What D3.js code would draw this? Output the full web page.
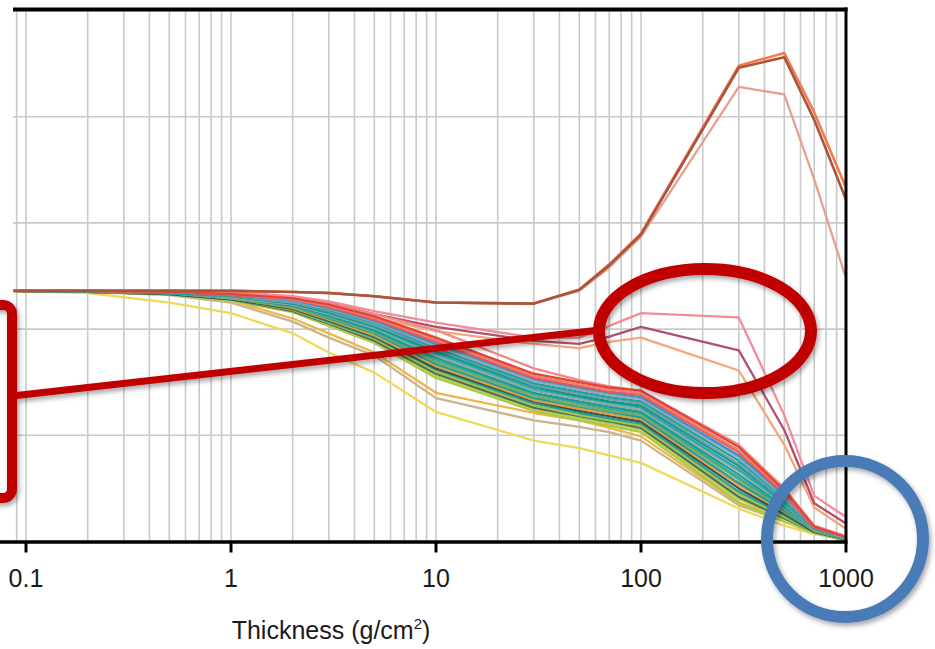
<!DOCTYPE html>
<html>
<head>
<meta charset="utf-8">
<script src="https://cdn.jsdelivr.net/npm/d3@7"></script>
<style>
  body { margin: 0; background: #fff; }
  text { font-family: "Liberation Sans", Arial, Helvetica, sans-serif; }
</style>
</head>
<body>
<svg id="chart"></svg>
<script>
// x sample points (thickness, g/cm2)
var thickness = [0.087, 0.2, 0.5, 1, 2, 3, 5, 10, 30, 50, 70, 100, 300, 500, 700, 1000];
var xTicks = [0.1, 1, 10, 100, 1000];
var xTickLabels = ["0.1", "1", "10", "100", "1000"];
var yGrid = [0, 1, 2, 3, 4, 5];

// the three curves with the big bump
var peakBrown  = [2.36, 2.36, 2.36, 2.36, 2.35, 2.34, 2.31, 2.25, 2.24, 2.37, 2.60, 2.89, 4.46, 4.56, 3.97, 3.22];
var peakOrange = [2.36, 2.36, 2.36, 2.36, 2.35, 2.34, 2.31, 2.25, 2.24, 2.37, 2.61, 2.90, 4.48, 4.60, 4.04, 3.33];
var peakSalmon = [2.36, 2.36, 2.36, 2.36, 2.35, 2.34, 2.31, 2.25, 2.24, 2.36, 2.58, 2.87, 4.28, 4.21, 3.41, 2.48];

// the lines inside the red ellipse
var ringPink   = [2.36, 2.36, 2.36, 2.35, 2.31, 2.26, 2.17, 2.06, 1.92, 1.92, 2.03, 2.15, 2.11, 1.19, 0.43, 0.23];
var ringMauve  = [2.36, 2.36, 2.36, 2.35, 2.30, 2.25, 2.14, 2.02, 1.89, 1.86, 1.93, 2.02, 1.80, 1.05, 0.36, 0.17];
var ringOrange = [2.36, 2.36, 2.36, 2.34, 2.29, 2.23, 2.11, 1.98, 1.86, 1.82, 1.88, 1.92, 1.61, 0.91, 0.32, 0.12];
var upperRose  = [2.36, 2.36, 2.36, 2.34, 2.29, 2.24, 2.14, 1.99, 1.63, 1.52, 1.46, 1.42, 0.91, 0.50, 0.15, 0.05];

// main bundle, top to bottom
var bandSeries = [
  [2.36, 2.36, 2.35, 2.33, 2.29, 2.23, 2.12, 1.92, 1.58, 1.50, 1.45, 1.42, 0.89, 0.48, 0.14, 0.04],
  [2.36, 2.36, 2.35, 2.33, 2.28, 2.22, 2.11, 1.90, 1.56, 1.48, 1.43, 1.40, 0.86, 0.47, 0.14, 0.04],
  [2.36, 2.36, 2.35, 2.32, 2.28, 2.21, 2.09, 1.88, 1.54, 1.46, 1.41, 1.38, 0.84, 0.45, 0.13, 0.04],
  [2.36, 2.36, 2.35, 2.32, 2.27, 2.20, 2.08, 1.86, 1.53, 1.45, 1.40, 1.36, 0.81, 0.44, 0.13, 0.04],
  [2.36, 2.36, 2.35, 2.32, 2.26, 2.19, 2.07, 1.84, 1.51, 1.43, 1.38, 1.34, 0.79, 0.42, 0.13, 0.03],
  [2.36, 2.36, 2.34, 2.31, 2.26, 2.18, 2.06, 1.82, 1.49, 1.41, 1.36, 1.32, 0.76, 0.41, 0.12, 0.03],
  [2.36, 2.36, 2.34, 2.31, 2.25, 2.17, 2.04, 1.81, 1.47, 1.39, 1.34, 1.30, 0.73, 0.39, 0.12, 0.03],
  [2.36, 2.36, 2.34, 2.31, 2.24, 2.16, 2.03, 1.79, 1.46, 1.37, 1.32, 1.28, 0.71, 0.38, 0.12, 0.03],
  [2.36, 2.36, 2.34, 2.31, 2.24, 2.15, 2.02, 1.77, 1.44, 1.36, 1.31, 1.26, 0.68, 0.36, 0.12, 0.03],
  [2.36, 2.36, 2.34, 2.30, 2.23, 2.14, 2.01, 1.75, 1.42, 1.34, 1.29, 1.24, 0.66, 0.35, 0.11, 0.03],
  [2.36, 2.35, 2.34, 2.30, 2.22, 2.13, 1.99, 1.73, 1.40, 1.32, 1.27, 1.22, 0.63, 0.33, 0.11, 0.02],
  [2.36, 2.35, 2.34, 2.30, 2.22, 2.12, 1.98, 1.71, 1.39, 1.30, 1.25, 1.21, 0.60, 0.32, 0.11, 0.02],
  [2.36, 2.35, 2.34, 2.29, 2.21, 2.11, 1.97, 1.69, 1.37, 1.28, 1.23, 1.19, 0.58, 0.31, 0.10, 0.02],
  [2.36, 2.35, 2.34, 2.29, 2.21, 2.10, 1.96, 1.67, 1.35, 1.27, 1.22, 1.17, 0.55, 0.29, 0.10, 0.02],
  [2.36, 2.35, 2.34, 2.29, 2.20, 2.09, 1.94, 1.65, 1.33, 1.25, 1.20, 1.15, 0.53, 0.28, 0.10, 0.02],
  [2.36, 2.35, 2.33, 2.28, 2.19, 2.08, 1.93, 1.63, 1.32, 1.23, 1.18, 1.13, 0.50, 0.26, 0.09, 0.02],
  [2.36, 2.35, 2.33, 2.28, 2.19, 2.07, 1.92, 1.62, 1.30, 1.21, 1.16, 1.11, 0.47, 0.25, 0.09, 0.02],
  [2.36, 2.35, 2.33, 2.28, 2.18, 2.06, 1.91, 1.60, 1.28, 1.19, 1.14, 1.09, 0.45, 0.23, 0.09, 0.01],
  [2.36, 2.35, 2.33, 2.28, 2.17, 2.05, 1.89, 1.58, 1.26, 1.18, 1.13, 1.07, 0.42, 0.22, 0.09, 0.01],
  [2.36, 2.35, 2.33, 2.27, 2.17, 2.04, 1.88, 1.56, 1.25, 1.16, 1.11, 1.05, 0.40, 0.20, 0.08, 0.01],
  [2.36, 2.35, 2.33, 2.27, 2.16, 2.03, 1.87, 1.54, 1.23, 1.14, 1.09, 1.03, 0.37, 0.19, 0.08, 0.01]
];

// lines that sit under the bundle
var lowOrange = [2.36, 2.35, 2.33, 2.27, 2.10, 1.96, 1.78, 1.40, 1.21, 1.14, 1.07, 0.99, 0.36, 0.20, 0.09, 0.02];
var lowTan    = [2.36, 2.35, 2.32, 2.25, 2.07, 1.92, 1.75, 1.35, 1.14, 1.08, 1.03, 0.95, 0.34, 0.19, 0.08, 0.02];
var lowYellow = [2.36, 2.34, 2.25, 2.15, 1.96, 1.78, 1.59, 1.22, 0.95, 0.88, 0.81, 0.74, 0.31, 0.15, 0.07, 0.02];

var bandColors = ["#e0443c", "#f0806c", "#e85a50", "#3b8fd4", "#8fa8b8", "#1ba39a", "#6fa0a8",
  "#16928c", "#22aca3", "#95a7a5", "#1a9c94", "#3aa896", "#7fa860", "#1f9f96", "#e0a040",
  "#3e524a", "#28a096", "#a0c24c", "#566a5c", "#b8d04c", "#a8c848"];

//--------------------------------------
var chart_width = 935;
var chart_height = 649;
var plot = { left: 13, right: 846, top: 10.5, bottom: 541.5 };

var svg = d3.select("#chart")
  .attr("width", chart_width)
  .attr("height", chart_height);

svg.append("rect").attr("width", chart_width).attr("height", chart_height).attr("fill", "#fff");

var defs = svg.append("defs");
var shadow = defs.append("filter")
  .attr("id", "shadow")
  .attr("filterUnits", "userSpaceOnUse")
  .attr("x", -50).attr("y", 0).attr("width", 1100).attr("height", 700);
shadow.append("feDropShadow")
  .attr("dx", 2).attr("dy", 3).attr("stdDeviation", 2.5)
  .attr("flood-color", "#000").attr("flood-opacity", 0.35);

var xScale = d3.scaleLog().domain([0.1, 1000]).range([26, 846]);
var yScale = d3.scaleLinear().domain([0, 5]).range([plot.bottom, plot.top]);

// grid
var minorVals = [];
[0.01, 0.1, 1, 10, 100].forEach(function(d) {
  for (var k = 1; k <= 9; k++) minorVals.push(d * k);
});
minorVals.push(1000);
minorVals = minorVals.filter(function(v) { return xScale(v) >= plot.left && xScale(v) <= plot.right; });

var grid = svg.append("g").attr("stroke", "#c9c9c9").attr("stroke-width", 1.6);
grid.selectAll(".vg").data(minorVals).enter().append("line")
  .attr("x1", function(d) { return xScale(d); })
  .attr("x2", function(d) { return xScale(d); })
  .attr("y1", plot.top).attr("y2", plot.bottom);
grid.selectAll(".hg").data(yGrid).enter().append("line")
  .attr("x1", plot.left).attr("x2", plot.right)
  .attr("y1", function(d) { return yScale(d); })
  .attr("y2", function(d) { return yScale(d); });

// data lines
var line = d3.line()
  .x(function(d, i) { return xScale(thickness[i]); })
  .y(function(d) { return yScale(d); });

var lines = svg.append("g").attr("fill", "none").attr("stroke-linejoin", "round");

function drawSeries(values, color, width) {
  lines.append("path")
    .datum(values)
    .attr("d", line)
    .attr("stroke", color)
    .attr("stroke-width", width || 2.3);
}

drawSeries(lowYellow, "#efd95a");
drawSeries(lowTan, "#c9b48c");
drawSeries(lowOrange, "#efb548");
drawSeries(peakSalmon, "#e4a090");
drawSeries(ringOrange, "#f5a57a");
drawSeries(ringMauve, "#b0506e");
drawSeries(ringPink, "#f58a9a");
drawSeries(upperRose, "#f28a82");
for (var b = bandSeries.length - 1; b >= 0; b--) {
  drawSeries(bandSeries[b], bandColors[b]);
}
drawSeries(peakOrange, "#f47a4a", 2.6);
drawSeries(peakBrown, "#a8553e", 2.6);

// frame
var frame = svg.append("g").attr("stroke", "#000").attr("fill", "none");
frame.append("line").attr("x1", plot.left).attr("x2", plot.right + 1.5)
  .attr("y1", plot.top - 1).attr("y2", plot.top - 1).attr("stroke-width", 4);
frame.append("line").attr("x1", plot.right).attr("x2", plot.right)
  .attr("y1", plot.top - 3).attr("y2", plot.bottom).attr("stroke-width", 3);

// x axis
var xAxis = svg.append("g");
xAxis.append("line").attr("x1", 0).attr("x2", plot.right + 1.5)
  .attr("y1", plot.bottom + 0.5).attr("y2", plot.bottom + 0.5)
  .attr("stroke", "#000").attr("stroke-width", 3.4);
xAxis.selectAll(".tick").data(xTicks).enter().append("line")
  .attr("x1", function(d) { return xScale(d); })
  .attr("x2", function(d) { return xScale(d); })
  .attr("y1", plot.bottom).attr("y2", plot.bottom + 11)
  .attr("stroke", "#000").attr("stroke-width", 3);
xAxis.selectAll(".lbl").data(xTicks).enter().append("text")
  .attr("x", function(d) { return xScale(d); })
  .attr("y", 587)
  .attr("text-anchor", "middle")
  .attr("font-size", 25)
  .attr("fill", "#1a1a1a")
  .text(function(d, i) { return xTickLabels[i]; });

var title = svg.append("text")
  .attr("x", 331).attr("y", 639)
  .attr("text-anchor", "middle")
  .attr("font-size", 25)
  .attr("fill", "#1a1a1a");
title.append("tspan").text("Thickness (g/cm");
title.append("tspan").attr("font-size", 15).attr("dy", -10).text("2");
title.append("tspan").attr("dy", 10).text(")");

// annotations
var notes = svg.append("g").attr("fill", "none").attr("filter", "url(#shadow)");
notes.append("rect")
  .attr("x", -60).attr("y", 305).attr("width", 72).attr("height", 193)
  .attr("rx", 9).attr("stroke", "#c00000").attr("stroke-width", 10);
notes.append("line")
  .attr("x1", 12).attr("y1", 396).attr("x2", 600).attr("y2", 330)
  .attr("stroke", "#c00000").attr("stroke-width", 7);
notes.append("ellipse")
  .attr("cx", 705).attr("cy", 331).attr("rx", 106).attr("ry", 62)
  .attr("stroke", "#c00000").attr("stroke-width", 12);
notes.append("circle")
  .attr("cx", 845).attr("cy", 539).attr("r", 78)
  .attr("stroke", "#4a7bb7").attr("stroke-width", 12);
</script>
</body>
</html>
